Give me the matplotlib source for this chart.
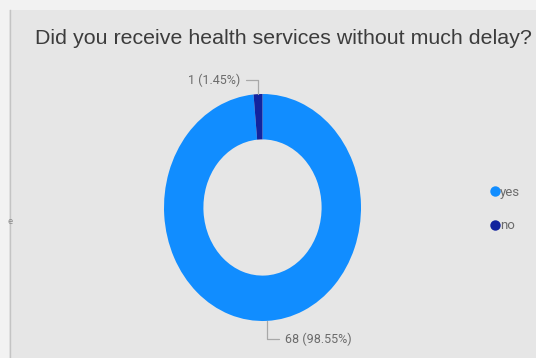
import matplotlib
matplotlib.use("Agg")
import matplotlib.pyplot as plt
import numpy as np
from matplotlib.patches import Rectangle
from matplotlib.lines import Line2D

categories = ["yes", "no"]
values = [68, 1]
colors = ["#118DFF", "#12239E"]
title = "Did you receive health services without much delay?"

W, H = 536, 358
fig = plt.figure(figsize=(W / 100, H / 100), dpi=100)
fig.patch.set_facecolor("#f2f2f2")

# panel background
fig.patches.append(Rectangle((9 / W, 0), 1 - 9 / W, 1 - 10 / H, transform=fig.transFigure,
                             facecolor="#e6e6e6", edgecolor="none", zorder=-5))
fig.lines.append(Line2D([9.5 / W, 9.5 / W], [0, 1 - 10 / H], transform=fig.transFigure,
                        color="#c4c4c4", lw=1, zorder=-4))

fig.text(35 / W, 1 - 38.5 / H, title, fontsize=15.4, color="#3c3c3c",
         family=["Liberation Sans", "DejaVu Sans"], va="center", ha="left")

fig.text(8 / W, 1 - 222 / H, "e", fontsize=6, color="#888888", va="center", ha="left")

# donut axes (elliptical as in the reference)
ax = fig.add_axes([164 / W, (H - 321) / H, 197 / W, 227 / H], zorder=1)
ax.set_facecolor("none")
wedges, _ = ax.pie(values, colors=colors, startangle=90, counterclock=False,
                   radius=1, wedgeprops=dict(width=0.4, edgecolor="none"))
ax.set_aspect("auto")
ax.set_xlim(-1, 1)
ax.set_ylim(-1, 1)
ax.axis("off")

total = sum(values)
label_font = ["Roboto", "DejaVu Sans"]
offsets = {"yes": (13, -13, "left"), "no": (-13, 10, "right")}
for w, cat, v in zip(wedges, categories, values):
    mid = np.deg2rad((w.theta1 + w.theta2) / 2)
    x, y = np.cos(mid), np.sin(mid)
    dx, dy, ha = offsets[cat]
    ax.annotate(f"{v} ({v / total * 100:.2f}%)", xy=(x, y), xytext=(dx, dy),
                textcoords="offset points", ha=ha, va="center", fontsize=9,
                color="#6b6b6b", family=label_font, annotation_clip=False,
                arrowprops=dict(arrowstyle="-", color="#a8a8a8", lw=0.9,
                                connectionstyle="angle,angleA=0,angleB=90,rad=0",
                                shrinkA=2, shrinkB=0))

# legend
handles = [Line2D([], [], marker="o", linestyle="none", markersize=7.5,
                  markerfacecolor=c, markeredgecolor="none") for c in colors]
leg = fig.legend(handles, categories, loc="upper left", bbox_to_anchor=(487 / W, 1 - 186 / H),
                 frameon=False, handletextpad=-0.2, labelspacing=1.55, handlelength=1.2,
                 borderaxespad=0, borderpad=0, prop=dict(family=label_font, size=9.5))
for t in leg.get_texts():
    t.set_color("#6b6b6b")

fig.savefig("out.png", dpi=100)
